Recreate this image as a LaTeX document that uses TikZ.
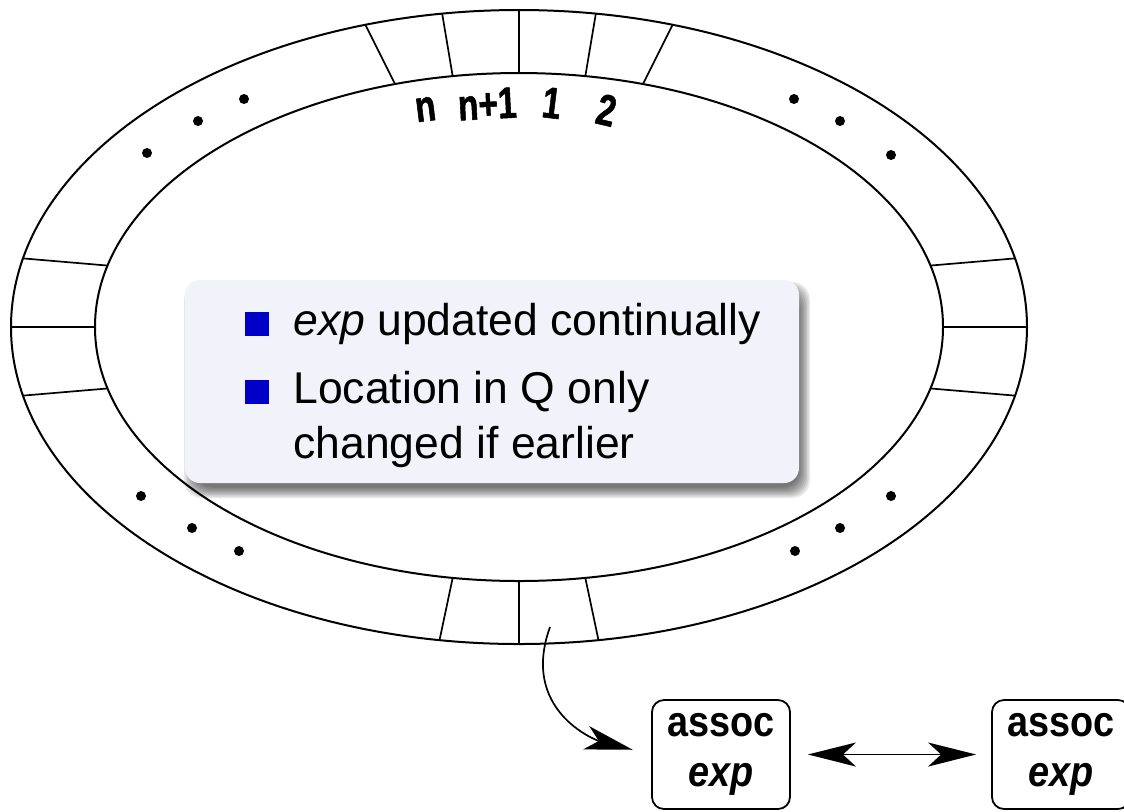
\documentclass[tikz,border=0pt]{standalone}
\usepackage{fontspec}
\setmainfont{Liberation Sans}
\newfontfamily\narrowsans[FakeStretch=0.88]{Liberation Sans}
\newfontfamily\tallsans[FakeStretch=0.76, FakeBold=1.2]{Liberation Sans}
\usetikzlibrary{arrows.meta}

\definecolor{blockbg}{RGB}{242,242,251}
\definecolor{bulletblue}{RGB}{0,0,200}

\begin{document}
\begin{tikzpicture}[x=0.5pt, y=-0.5pt, line join=round,
  ring/.style={line width=1pt},
  spoke/.style={line width=0.85pt},
  slotdot/.style={fill=black},
  itemtext/.style={anchor=base west, inner sep=0pt, font=\fontsize{22.25}{27}\selectfont},
  slotlabel/.style={anchor=base, inner sep=0pt, font=\tallsans\bfseries\fontsize{22}{26}\selectfont},
  assocbox/.style={draw, line width=0.9pt, rounded corners=6pt, align=center,
    minimum width=69pt, minimum height=54.5pt, inner sep=0pt,
    font=\narrowsans\bfseries\fontsize{21.5}{25}\selectfont},
  bigtip/.style={line width=0.85pt},
  head/.tip={Stealth[length=24pt, width=12pt, inset=6.5pt]}
]
\useasboundingbox (0,0) rectangle (1124,811);

% circular queue: outer and inner rims
\draw[ring] (519,327) ellipse [x radius=508, y radius=317];
\draw[ring] (519,327) ellipse [x radius=424, y radius=254];

% slot separators (outer angle / inner angle)
\foreach \a/\b in {90/90, 81.3/81, 72.4/73, 98.7/99, 107.6/107,
                   167.5/166, 180/180, 192.5/194,
                   12.5/14, 0/0, -12.5/-14,
                   261/261, 270/270, 279/279}
  \draw[spoke] ({519+508*cos(\a)},{327-317*sin(\a)}) -- ({519+424*cos(\b)},{327-254*sin(\b)});

% ellipsis dots along the ring
\foreach \p in {(244,99),(198,121),(147,153),
                (794,99),(840,121),(891,155),
                (141,496),(192,528),(239,551),
                (795,551),(840,528),(891,496)}
  \fill[slotdot] \p circle [radius=5];

% slot numbers
\node[slotlabel, rotate=7]   (ln)  at (427,121) {n};
\node[slotlabel, rotate=3]   (ln1) at (488,119) {n+1};
\node[slotlabel, rotate=-7]  (l1)  at (550,118) {1};
\node[slotlabel, rotate=-13] (l2)  at (603,125) {2};

% block with drop shadow
\foreach \s in {0,...,7}
  \fill[black, opacity=0.09, rounded corners=9pt]
    ({185+5-6+1.5*\s},{280+8-6+1.5*\s}) rectangle ({799+5+6-1.5*\s},{483+9+6-1.5*\s});
\fill[blockbg, rounded corners=7.5pt] (185,280) rectangle (799,483);

\fill[bulletblue] (245,312) rectangle (269,336);
\fill[bulletblue] (245,380) rectangle (269,404);
\node[itemtext] (t1) at (293,335) {\textit{exp} updated continually};
\node[itemtext] (t2) at (293,403) {Location in Q only};
\node[itemtext] (t3) at (293,458) {changed if earlier};

% entries
\node[assocbox] (b1) at (721,754.5) {assoc\\\textit{exp}};
\node[assocbox] (b2) at (1061,754.5) {assoc\\\textit{exp}};

\coordinate (cell) at (550,627);
\draw[bigtip, -head, shorten >=9.5pt]
  (cell) .. controls (520,710) and (595,740) .. (b1.west);
\draw[bigtip, head-head, shorten <=8.5pt, shorten >=7.5pt] (b1.east) -- (b2.west);
\end{tikzpicture}
\end{document}
